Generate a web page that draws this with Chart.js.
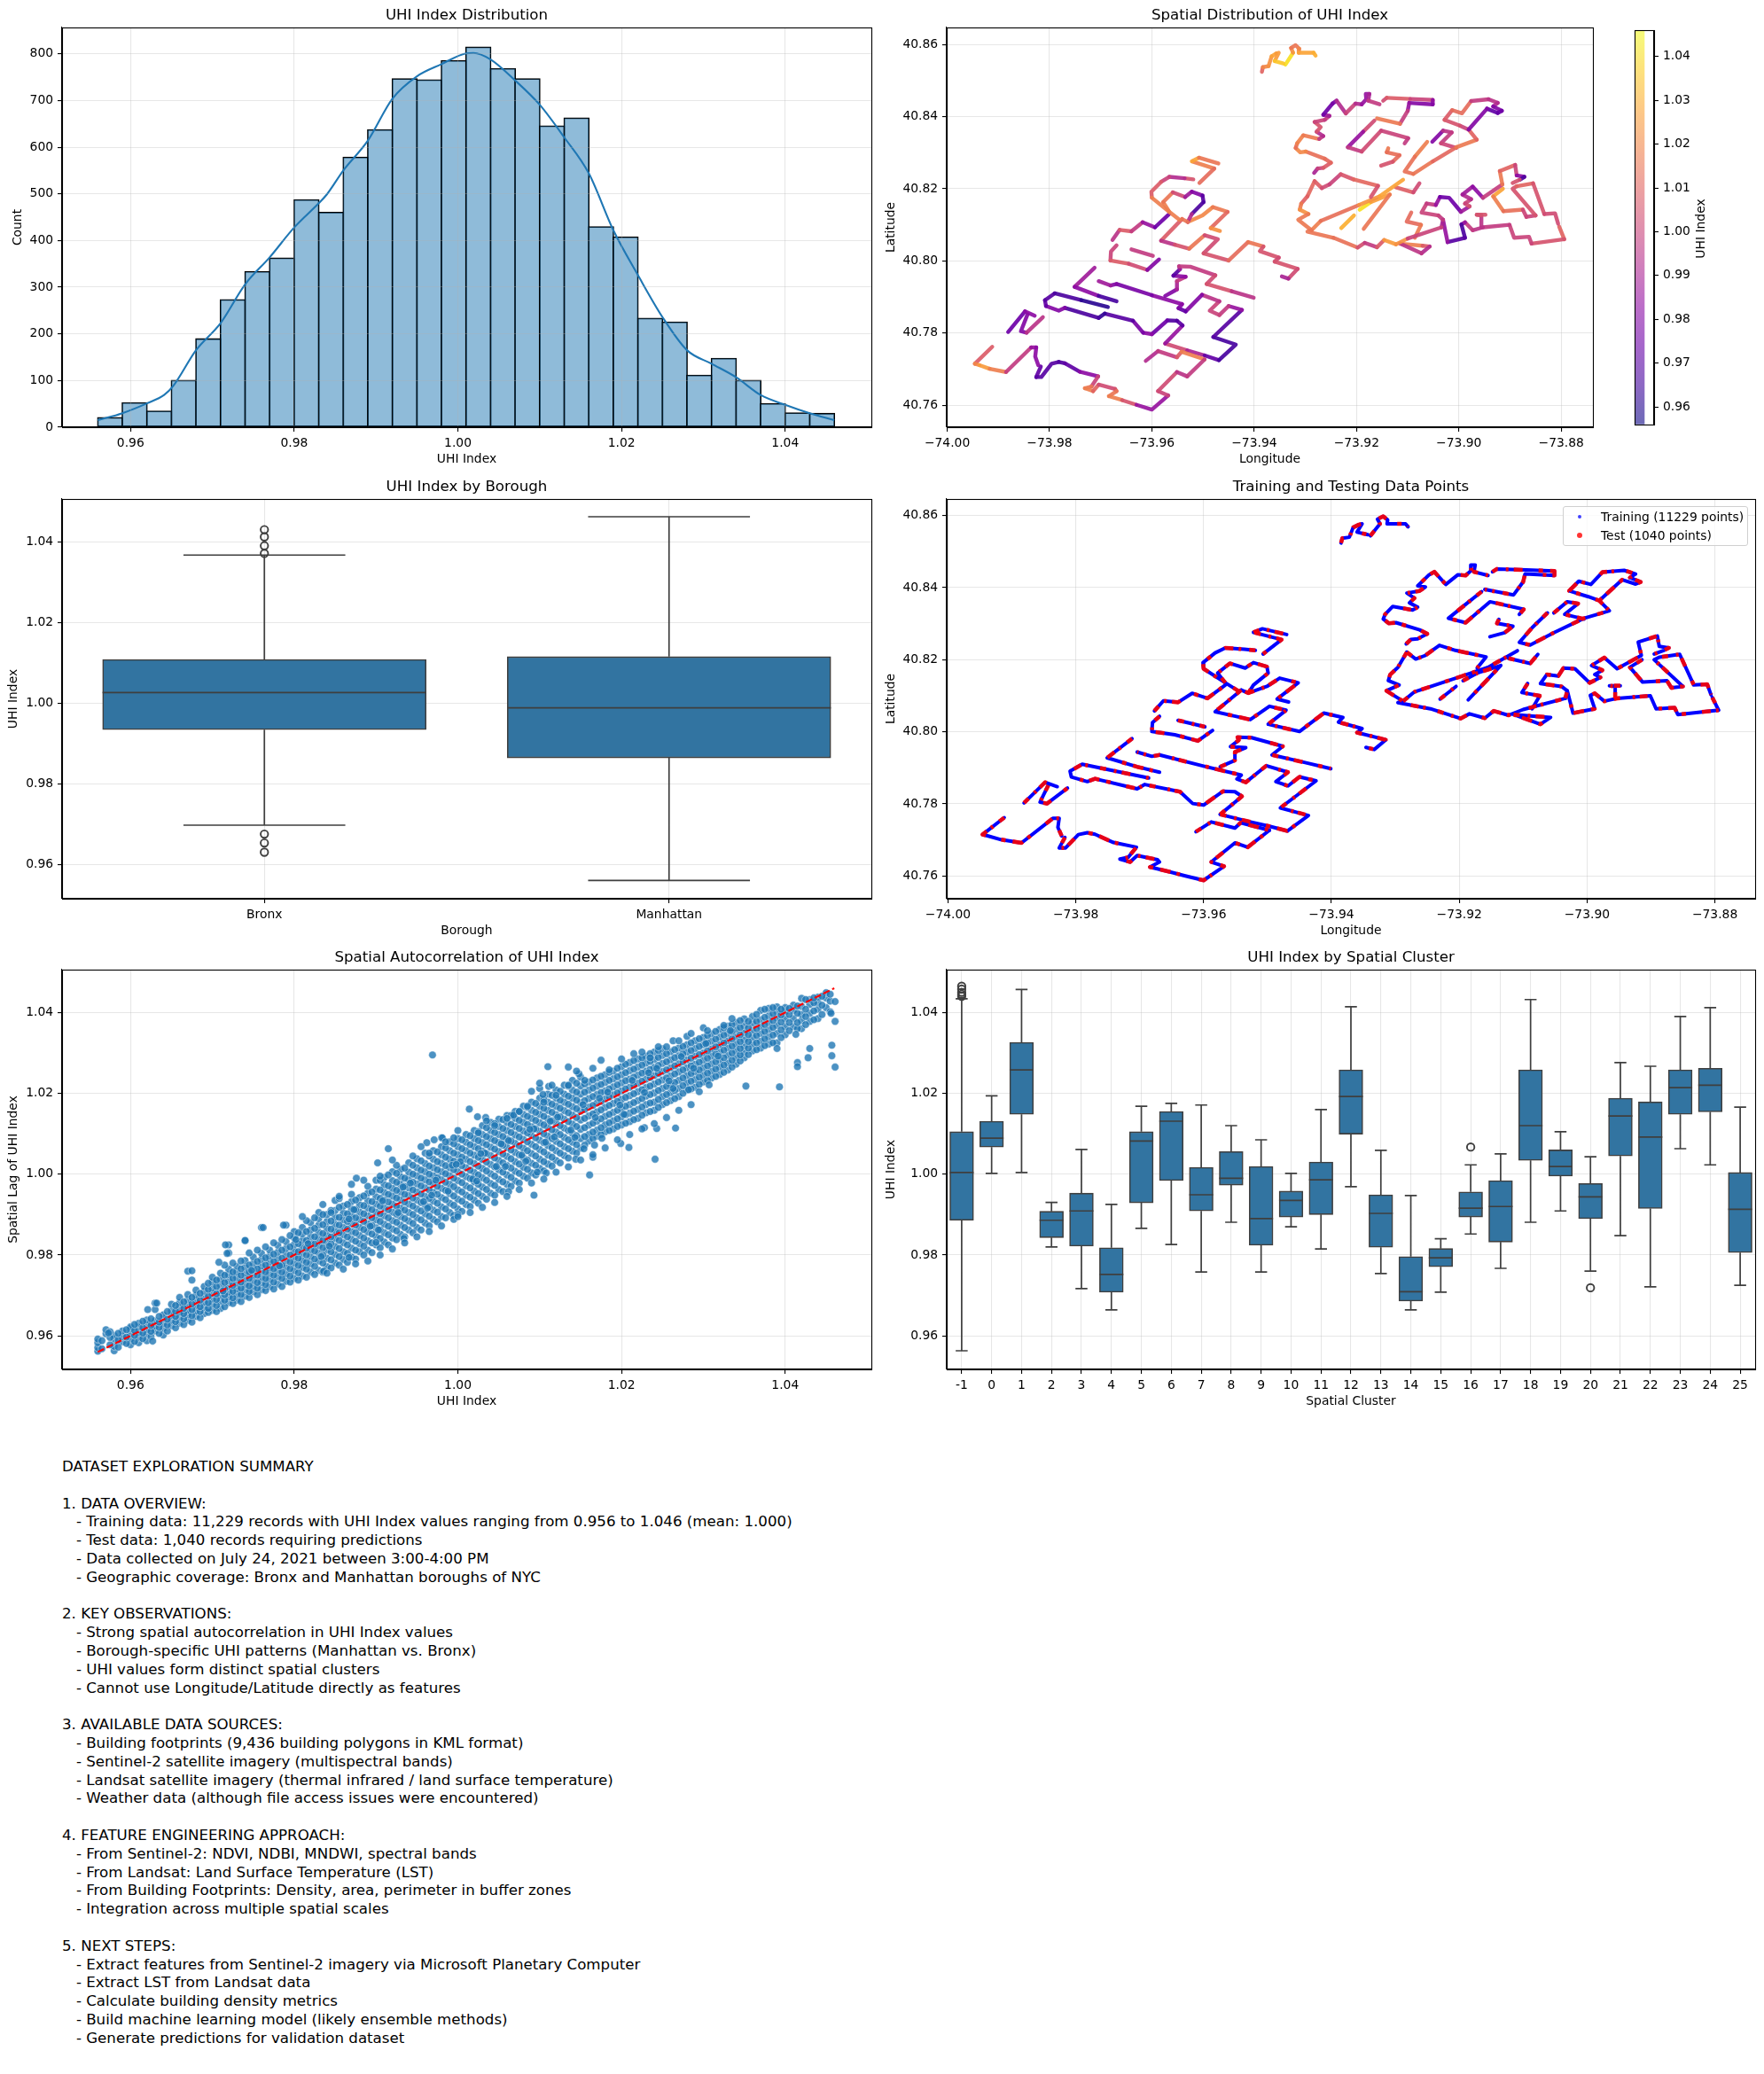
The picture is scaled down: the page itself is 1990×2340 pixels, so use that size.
<!DOCTYPE html>
<html>
<head>
<meta charset="utf-8">
<title>UHI dataset exploration</title>
<script src="https://cdn.jsdelivr.net/npm/chart.js@4/dist/chart.umd.min.js"></script>
<style>
  html, body { margin: 0; padding: 0; background: #fff; }
  body { position: relative; width: 1990px; height: 2340px; overflow: hidden; font-family: "DejaVu Sans", sans-serif; color: #000; }
  canvas { position: absolute; display: block; }
  #summary { position: absolute; left: 70px; top: 1645px; margin: 0; font: 16.67px/20.8px "DejaVu Sans", sans-serif; white-space: pre; }
  #cbarLabel { position: absolute; left: 1868px; top: 248px; width: 100px; height: 20px; line-height: 20px; text-align: center; font-size: 13.89px; transform: rotate(-90deg); }
  #legend { position: absolute; left: 1763px; top: 571px; width: 209px; height: 45px; box-sizing: border-box; border: 1px solid #d0d0d0; border-radius: 3px; background: rgba(255,255,255,.8); font-size: 13.89px; }
  #legend div { position: absolute; left: 42px; white-space: nowrap; line-height: 16px; }
  #legend i { position: absolute; border-radius: 50%; }
</style>
</head>
<body>
<canvas id="histChart" width="990" height="530" style="left:0;top:0"></canvas>
<canvas id="spatialChart" width="845" height="530" style="left:990px;top:0"></canvas>
<canvas id="colorbarChart" width="120" height="471" style="left:1840px;top:21px"></canvas>
<div id="cbarLabel">UHI Index</div>
<canvas id="boroughChart" width="990" height="530" style="left:0;top:532px"></canvas>
<canvas id="splitChart" width="1000" height="530" style="left:990px;top:532px"></canvas>
<div id="legend">
  <i style="left:16px;top:9px;width:4px;height:4px;background:rgba(0,0,255,.75)"></i><div style="top:3px">Training (11229 points)</div>
  <i style="left:15px;top:29px;width:6px;height:6px;background:rgba(255,0,0,.8)"></i><div style="top:24px">Test (1040 points)</div>
</div>
<canvas id="lagChart" width="990" height="530" style="left:0;top:1063px"></canvas>
<canvas id="clusterChart" width="1000" height="530" style="left:990px;top:1063px"></canvas>
<pre id="summary">DATASET EXPLORATION SUMMARY

1. DATA OVERVIEW:
   - Training data: 11,229 records with UHI Index values ranging from 0.956 to 1.046 (mean: 1.000)
   - Test data: 1,040 records requiring predictions
   - Data collected on July 24, 2021 between 3:00-4:00 PM
   - Geographic coverage: Bronx and Manhattan boroughs of NYC

2. KEY OBSERVATIONS:
   - Strong spatial autocorrelation in UHI Index values
   - Borough-specific UHI patterns (Manhattan vs. Bronx)
   - UHI values form distinct spatial clusters
   - Cannot use Longitude/Latitude directly as features

3. AVAILABLE DATA SOURCES:
   - Building footprints (9,436 building polygons in KML format)
   - Sentinel-2 satellite imagery (multispectral bands)
   - Landsat satellite imagery (thermal infrared / land surface temperature)
   - Weather data (although file access issues were encountered)

4. FEATURE ENGINEERING APPROACH:
   - From Sentinel-2: NDVI, NDBI, MNDWI, spectral bands
   - From Landsat: Land Surface Temperature (LST)
   - From Building Footprints: Density, area, perimeter in buffer zones
   - Integration across multiple spatial scales

5. NEXT STEPS:
   - Extract features from Sentinel-2 imagery via Microsoft Planetary Computer
   - Extract LST from Landsat data
   - Calculate building density metrics
   - Build machine learning model (likely ensemble methods)
   - Generate predictions for validation dataset</pre>
<script>
// histogram: bin centres, counts, and the kde curve read at the bin edges
const histBins = [0.9575,0.9605,0.9635,0.9665,0.9695,0.9725,0.9755,0.9785,0.9815,0.9845,0.9875,0.9905,0.9935,0.9965,0.9995,1.0025,1.0055,1.0085,1.0115,1.0145,1.0175,1.0205,1.0235,1.0265,1.0295,1.0325,1.0355,1.0385,1.0415,1.0445];
const histCounts = [21,53,35,101,190,274,334,363,488,461,579,638,747,745,786,815,769,747,646,663,430,408,234,226,112,148,101,51,31,30];
const kdeX = [0.956,0.959,0.962,0.9641,0.9652,0.968,0.971,0.974,0.977,0.98,0.983,0.984,0.986,0.989,0.992,0.995,0.998,1.001,1.0019,1.004,1.007,1.01,1.013,1.016,1.019,1.022,1.025,1.028,1.031,1.034,1.037,1.04,1.043,1.046];
const kdeY = [15,30,51,69,88,165,223,306,364,428,480,499,550,614,704,752,778,801,802,788,743,691,621,544,422,326,236,165,136,107,69,48,30,15];

// borough boxes
const boroughLabels = ['Bronx','Manhattan'];
const boroughQ1 = [0.9934,0.9864];
const boroughMedian = [1.0026,0.9988];
const boroughQ3 = [1.0108,1.0115];
const boroughLow = [0.9697,0.956];
const boroughHigh = [1.0367,1.0462];
const boroughFliers = [[1.043,1.0412,1.039,1.0371,0.9675,0.9653,0.963],[]];

// spatial cluster boxes
const clusterLabels = ['-1','0','1','2','3','4','5','6','7','8','9','10','11','12','13','14','15','16','17','18','19','20','21','22','23','24','25'];
const clusterQ1 = [0.9886,1.0067,1.0148,0.9843,0.9822,0.9708,0.9929,0.9984,0.9909,0.9973,0.9824,0.9894,0.99,1.0099,0.9819,0.9686,0.9771,0.9894,0.9832,1.0034,0.9995,0.989,1.0045,0.9915,1.0148,1.0154,0.9806];
const clusterMedian = [1.0004,1.0089,1.0258,0.9886,0.9909,0.9752,1.0082,1.0131,0.9949,0.999,0.989,0.9935,0.9986,1.0192,0.9903,0.9709,0.9793,0.9916,0.992,1.012,1.0019,0.9944,1.0144,1.0092,1.0214,1.022,0.9913];
const clusterQ3 = [1.0105,1.0131,1.0326,0.9908,0.9953,0.9818,1.0105,1.0155,1.0017,1.0056,1.0019,0.9958,1.003,1.0258,0.9949,0.9796,0.9816,0.9956,0.9984,1.0258,1.006,0.9977,1.0188,1.0179,1.0258,1.0262,1.0004];
const clusterLow = [0.9563,1.0002,1.0004,0.982,0.9717,0.9664,0.9866,0.9826,0.9758,0.9881,0.9758,0.987,0.9815,0.9969,0.9754,0.9664,0.9708,0.9852,0.9767,0.9881,0.9909,0.976,0.9848,0.9721,1.0063,1.0023,0.9725];
const clusterHigh = [1.0434,1.0194,1.0457,0.993,1.0061,0.9925,1.0168,1.0175,1.0171,1.012,1.0085,1.0002,1.016,1.0414,1.0059,0.9947,0.984,1.0023,1.005,1.0432,1.0105,1.0043,1.0276,1.0267,1.039,1.0412,1.0166];
const clusterFliers = {0:[1.0465,1.0458,1.045,1.0445,1.044],17:[1.0067],21:[0.9719]};

// measurement tracks: longitude, latitude, UHI index per vertex
const trackSouthA = [[-73.9912,40.7762,.995],[-73.9946,40.7715,1.02],[-73.9937,40.7711,1.02],[-73.9917,40.7701,1.03],[-73.9885,40.7692,1.005],[-73.9836,40.776,.99],[-73.9826,40.776,.98],[-73.9828,40.7735,.985],[-73.9822,40.7711,.98]];
const trackSouthB = [[-73.9817,40.7707,.975],[-73.9826,40.7678,.97],[-73.9816,40.7678,.97],[-73.9796,40.7715,.97],[-73.9782,40.772,.97],[-73.977,40.7716,.968],[-73.9741,40.7693,.975],[-73.9705,40.768,.99],[-73.9718,40.7652,1.01],[-73.9731,40.7647,1.02],[-73.9715,40.7639,1.015],[-73.9704,40.7657,1.005],[-73.9672,40.7645,1.0],[-73.9669,40.7639,1.01],[-73.9684,40.7625,1.02],[-73.9658,40.7614,1.015],[-73.963,40.7601,.995],[-73.96,40.7588,.975],[-73.9568,40.7627,.995],[-73.9588,40.7639,1.005],[-73.9551,40.7692,1.0],[-73.9531,40.768,.99],[-73.9497,40.7727,1.005]];
const trackCross = [[-73.9612,40.7723,.985],[-73.9588,40.775,1.0],[-73.9551,40.7733,.995],[-73.9542,40.7748,1.02],[-73.9497,40.7727,1.015]];
const trackSnake = [[-73.9574,40.7771,1.0],[-73.954,40.7821,.97],[-73.9551,40.7834,.972],[-73.957,40.7835,.965],[-73.96,40.7797,.985],[-73.9617,40.7801,.98],[-73.9637,40.7834,.975],[-73.9692,40.7854,.965],[-73.9704,40.7842,.96],[-73.977,40.787,.975],[-73.9782,40.7862,.985],[-73.9807,40.7875,.975],[-73.9809,40.7891,.97],[-73.979,40.791,.97],[-73.9738,40.7891,.965],[-73.9686,40.7872,.957]];
const trackRiver = [[-73.9712,40.7981,.985],[-73.9751,40.7928,.99],[-73.9704,40.7903,.975],[-73.9669,40.7888,.958]];
const trackMidtown = [[-73.9574,40.7771,1.005],[-73.9531,40.7752,1.0],[-73.9497,40.7738,.98],[-73.9469,40.7725,.965],[-73.9436,40.7768,.968],[-73.948,40.7789,.965],[-73.9424,40.7864,.975],[-73.945,40.7875,.995],[-73.9468,40.785,1.0],[-73.9487,40.7862,1.0],[-73.9468,40.7888,1.0],[-73.9502,40.7906,.99],[-73.9534,40.786,.97],[-73.9548,40.7869,.975],[-73.9541,40.788,.985],[-73.96,40.7905,.98],[-73.9669,40.7936,.975],[-73.9681,40.7932,.985],[-73.9704,40.7944,.99]];
const trackCentralA = [[-73.9574,40.7903,.975],[-73.9551,40.7921,.985],[-73.9551,40.7944,.995],[-73.9534,40.7956,1.0],[-73.9558,40.7959,.965],[-73.9545,40.7977,.975],[-73.9547,40.7985,1.0],[-73.9525,40.7984,.995],[-73.9476,40.796,1.0],[-73.9493,40.7936,1.005],[-73.9444,40.7916,1.005],[-73.9401,40.7898,.985]];
const trackSmallA = [[-73.9881,40.7803,.985],[-73.9848,40.786,.965],[-73.9829,40.7848,1.0]];
const trackSmallB = [[-73.9843,40.7852,.985],[-73.9856,40.7805,.975],[-73.9845,40.7801,.985],[-73.9813,40.7844,1.005]];
const trackHarlemA = [[-73.9669,40.8043,1.0],[-73.968,40.8026,1.0],[-73.9681,40.8001,1.0],[-73.9645,40.7992,1.015],[-73.9609,40.7975,.99],[-73.9586,40.8004,.97]];
const trackHarlemB = [[-73.964,40.8032,1.005],[-73.9598,40.8014,.99]];
const trackHarlemC = [[-73.9522,40.8276,1.04],[-73.9508,40.8286,1.015],[-73.947,40.827,1.015]];
const trackHarlemD = [[-73.952,40.8275,1.02],[-73.9478,40.8256,1.015],[-73.9507,40.8216,1.01]];
const trackHarlemE = [[-73.9519,40.8226,1.015],[-73.9536,40.8229,.995],[-73.9566,40.8233,.99],[-73.9582,40.8219,1.01],[-73.9601,40.8192,1.005],[-73.96,40.8175,1.01],[-73.9566,40.8136,1.025],[-73.9546,40.8114,1.01]];
const trackHeart = [[-73.9566,40.8136,1.02],[-73.9578,40.8163,1.015],[-73.9559,40.819,1.015],[-73.9535,40.8177,.99],[-73.9522,40.8192,.985],[-73.9501,40.8181,.975],[-73.9499,40.8163,.965],[-73.9522,40.813,.97],[-73.953,40.8108,1.015],[-73.9541,40.8116,1.015]];
const trackHarlemF = [[-73.953,40.8108,1.02],[-73.9501,40.8126,1.02],[-73.9481,40.8149,1.02],[-73.9452,40.8136,1.012],[-73.9485,40.8091,1.01],[-73.9467,40.8083,1.035]];
const trackHarlemG = [[-73.9677,40.8058,.975],[-73.9663,40.8086,1.015],[-73.964,40.8082,1.0],[-73.9618,40.8107,.995],[-73.9594,40.8093,.975],[-73.9566,40.813,.975]];
const trackHarlemH = [[-73.9541,40.8116,1.015],[-73.9582,40.8056,1.0],[-73.9555,40.8045,.99],[-73.9527,40.8034,1.02],[-73.9497,40.8071,1.01],[-73.9471,40.806,.995],[-73.9499,40.8021,1.01],[-73.945,40.8001,1.0],[-73.9412,40.8052,1.025],[-73.9382,40.804,1.005],[-73.9389,40.8027,1.005],[-73.9352,40.8009,1.005],[-73.936,40.7998,1.0],[-73.9315,40.7978,1.01],[-73.9333,40.7951,.995],[-73.9346,40.7957,.985]];
const trackNorthA = [[-73.9385,40.8524,1.0],[-73.9383,40.8537,1.02],[-73.9372,40.854,1.02],[-73.9366,40.8567,1.025],[-73.9357,40.8575,1.03],[-73.9352,40.8577,1.02],[-73.936,40.8554,1.03],[-73.9343,40.8547,1.04]];
const trackNorthB = [[-73.9339,40.8544,1.046],[-73.9324,40.8577,1.035],[-73.9328,40.859,1.01],[-73.9319,40.8598,1.02],[-73.9312,40.8588,1.01],[-73.9313,40.8577,1.03],[-73.9284,40.8577,1.025],[-73.928,40.8569,1.035]];
const trackBronxA = [[-73.9283,40.8244,.985],[-73.9276,40.8256,.995],[-73.9265,40.8258,1.005],[-73.925,40.8272,1.01],[-73.9262,40.8283,1.012],[-73.9299,40.8303,1.015],[-73.931,40.8301,1.025],[-73.9319,40.8313,1.015],[-73.9316,40.8326,1.012],[-73.9304,40.8348,1.025],[-73.9273,40.8338,1.008],[-73.9265,40.8346,.985],[-73.9278,40.8358,1.0],[-73.927,40.8371,1.01],[-73.9282,40.8385,1.0],[-73.9262,40.8391,1.0],[-73.9253,40.8402,.995],[-73.9265,40.8405,.98],[-73.9247,40.8436,.97],[-73.9239,40.8444,.985],[-73.9221,40.8409,1.0],[-73.9202,40.8436,1.0],[-73.919,40.8434,.985],[-73.9181,40.8448,.985],[-73.9182,40.8463,.985],[-73.9175,40.8463,.985],[-73.9177,40.8444,.995],[-73.9155,40.8434,1.0]];
const trackBronxB = [[-73.9148,40.8444,1.0],[-73.9141,40.8452,1.005],[-73.9095,40.8449,1.01],[-73.9051,40.8446,.99],[-73.9051,40.8434,.975],[-73.9097,40.8438,.985],[-73.91,40.8416,.985],[-73.9115,40.838,1.012],[-73.916,40.8395,1.02]];
const trackBronxC = [[-73.9165,40.8389,1.03],[-73.9187,40.8358,.975],[-73.9217,40.8315,.995],[-73.919,40.8303,1.0],[-73.9152,40.8361,1.005],[-73.9099,40.834,.995],[-73.9106,40.8326,1.0]];
const trackBronxD = [[-73.9138,40.8312,1.02],[-73.9141,40.8301,1.012],[-73.9116,40.8293,1.015],[-73.9129,40.8275,1.01],[-73.9152,40.8264,1.0]];
const trackBronxE = [[-73.9062,40.833,1.015],[-73.9086,40.8289,1.02],[-73.9106,40.8248,1.008],[-73.9089,40.8241,1.02],[-73.9051,40.8276,1.01],[-73.9005,40.8315,1.012],[-73.8965,40.8336,1.02],[-73.8981,40.8364,1.0],[-73.8998,40.8375,1.0],[-73.9028,40.8391,1.01],[-73.9013,40.8418,1.005],[-73.8994,40.8409,1.02],[-73.8976,40.8443,1.005],[-73.8942,40.8448,.99],[-73.8924,40.8438,1.0],[-73.8933,40.8428,.985],[-73.8916,40.8416,.975],[-73.8924,40.841,.975],[-73.8945,40.8422,.97],[-73.8981,40.8364,.99]];
const trackBronxF = [[-73.9052,40.833,.975],[-73.9031,40.8361,.985],[-73.9014,40.8356,1.005],[-73.9035,40.8326,.99],[-73.9005,40.8313,1.012]];
const trackBronxG = [[-73.9282,40.8221,1.012],[-73.9268,40.8202,1.005],[-73.9253,40.8212,1.0],[-73.9231,40.824,1.0],[-73.9206,40.8226,1.012],[-73.9158,40.8208,1.01],[-73.9172,40.8177,1.0]];
const trackBronxH = [[-73.9282,40.8221,1.012],[-73.9296,40.8179,1.01],[-73.9308,40.8159,1.008],[-73.9311,40.8142,1.025],[-73.9294,40.813,1.02],[-73.9314,40.8114,1.012],[-73.9288,40.8085,1.02],[-73.9296,40.8081,1.01],[-73.9245,40.8064,1.02],[-73.9198,40.8037,1.008],[-73.9184,40.805,1.0],[-73.916,40.8038,.995],[-73.9146,40.8058,1.02],[-73.9123,40.8046,1.03],[-73.91,40.8062,1.015],[-73.9034,40.8093,.985]];
const trackBronxI = [[-73.9288,40.8085,1.02],[-73.927,40.8111,1.015],[-73.9195,40.8155,1.012],[-73.9155,40.8179,1.035],[-73.9109,40.8225,1.02]];
const trackBronxJ = [[-73.9123,40.8204,1.012],[-73.9089,40.819,1.005],[-73.9077,40.8215,1.0]];
const trackBronxK = [[-73.9194,40.8142,1.04],[-73.9172,40.8163,1.042],[-73.9135,40.8184,1.01],[-73.9186,40.8089,1.02]];
const trackBronxL = [[-73.923,40.8091,1.02],[-73.9205,40.8126,1.04]];
const trackBronxM = [[-73.9115,40.8048,1.025],[-73.9071,40.8042,1.01],[-73.9057,40.804,1.005],[-73.9073,40.8021,.98],[-73.9115,40.8048,1.012]];
const trackBronxN = [[-73.9093,40.8134,1.012],[-73.9102,40.8109,1.012],[-73.9074,40.81,1.012],[-73.9086,40.8064,1.02]];
const trackBronxO = [[-73.9034,40.8093,.985],[-73.9031,40.8114,.995],[-73.904,40.8126,1.0],[-73.9073,40.8134,1.0],[-73.9063,40.8159,1.0],[-73.9045,40.8155,.995],[-73.9037,40.8177,.975],[-73.9019,40.8175,.975],[-73.8996,40.8136,.975],[-73.8979,40.8151,1.0],[-73.8988,40.8159,1.01],[-73.8976,40.8171,.99],[-73.8993,40.8184,.995],[-73.8973,40.8206,.98],[-73.8953,40.8175,.985],[-73.8915,40.8212,1.012],[-73.892,40.8249,1.02],[-73.889,40.8266,1.0],[-73.8887,40.8237,1.0],[-73.8872,40.8233,.965],[-73.8881,40.8225,.97],[-73.8895,40.8216,1.04]];
const trackBronxP = [[-73.8914,40.82,1.035],[-73.8933,40.8179,1.02],[-73.8913,40.8138,1.015],[-73.8875,40.8142,1.012],[-73.8868,40.8122,.99],[-73.885,40.8126,1.01],[-73.8895,40.82,1.0],[-73.8887,40.8207,1.01],[-73.8855,40.8215,1.01],[-73.8833,40.813,1.0],[-73.8812,40.8132,1.005],[-73.8806,40.8103,1.0]];
const trackBronxQ = [[-73.8804,40.8095,1.01],[-73.8794,40.806,1.01],[-73.8858,40.8048,1.0],[-73.8863,40.8067,1.0],[-73.8892,40.8064,1.0],[-73.8901,40.81,1.0],[-73.8953,40.8093,.995],[-73.8973,40.8085,.995],[-73.8988,40.8107,1.0],[-73.8995,40.8101,.97],[-73.8988,40.8064,.965],[-73.9022,40.8052,.975],[-73.9031,40.8114,.995]];
const trackBronxR = [[-73.8956,40.8093,.99],[-73.8956,40.8126,1.0],[-73.8965,40.8128,1.005],[-73.8948,40.8128,1.005]];

const allTracks = [trackSouthA,trackSouthB,trackCross,trackSnake,trackRiver,trackMidtown,trackCentralA,trackSmallA,trackSmallB,trackHarlemA,trackHarlemB,trackHarlemC,trackHarlemD,trackHarlemE,trackHeart,trackHarlemF,trackHarlemG,trackHarlemH,trackNorthA,trackNorthB,trackBronxA,trackBronxB,trackBronxC,trackBronxD,trackBronxE,trackBronxF,trackBronxG,trackBronxH,trackBronxI,trackBronxJ,trackBronxK,trackBronxL,trackBronxM,trackBronxN,trackBronxO,trackBronxP,trackBronxQ,trackBronxR];

// spatial lag scatter: first entry of a row is the UHI index, the rest are lag values at it
const lagRows = [
[.956,.9562,.9571,.9583,.9592],[.957,.9605,.9615],[.958,.9563,.9574,.9592,.9601],[.959,.9585,.9598,.9612],
[.96,.9578,.9592,.9605,.9618,.9622],[.961,.9583,.9596,.9608,.9621,.9631],[.962,.9588,.9604,.9615,.9628,.9639],[.963,.9612,.9624,.9637,.9665,.9681],
[.964,.9602,.9618,.963,.9643,.9652],[.965,.9625,.9638,.965,.9662,.9678],[.966,.9631,.9646,.9658,.967,.9682,.9695],[.967,.9638,.9652,.9663,.9676,.9689,.9702,.976],
[.968,.9648,.9661,.9675,.9688,.97,.9713],[.969,.9655,.967,.9683,.9696,.971,.9722],[.97,.9663,.9678,.9691,.9705,.9718,.9733,.9745],[.971,.9668,.9685,.9699,.9712,.9726,.974,.9755],
[.972,.9682,.9696,.9708,.9722,.9736,.9751,.9765,.9805,.9825],[.973,.9688,.9703,.9716,.973,.9744,.9758,.9772],[.974,.9698,.9714,.9727,.9741,.9755,.977,.9786,.9835],[.975,.9709,.9722,.9737,.975,.9764,.9779,.9795],
[.976,.9714,.9731,.9745,.976,.9773,.9789,.9804,.9868],[.977,.9722,.9739,.9754,.9768,.9783,.9797,.9812],[.978,.9728,.9746,.9762,.9778,.9792,.9807,.9824],[.979,.9735,.9753,.977,.9786,.9801,.9816,.9833,.9874],
[.98,.9742,.9761,.9779,.9795,.981,.9826,.9842,.9858],[.981,.9748,.9769,.9787,.9804,.982,.9836,.9852,.9868],[.982,.9758,.9778,.9796,.9813,.983,.9846,.9862,.988],[.983,.9762,.9785,.9805,.9823,.984,.9856,.9874,.989,.9905],
[.984,.9771,.9792,.9812,.9832,.9849,.9866,.9883,.99],[.985,.978,.9801,.9821,.9841,.9859,.9876,.9893,.991,.9935],[.986,.9789,.9808,.983,.985,.9868,.9887,.9904,.9921],[.987,.9795,.9817,.9839,.9858,.9878,.9896,.9914,.9932,.995],
[.988,.9808,.9828,.9848,.9868,.9888,.9906,.9924,.9942],[.989,.9812,.9835,.9857,.9877,.9897,.9916,.9934,.9953,.997],[.99,.9825,.9846,.9867,.9887,.9906,.9926,.9944,.9963,.9985],[.991,.9832,.9855,.9876,.9897,.9916,.9936,.9955,.9974,.9992],
[.992,.9842,.9864,.9885,.9906,.9926,.9946,.9965,.9984,1.0006],[.993,.9851,.9874,.9895,.9916,.9937,.9956,.9975,.9994,1.0012],[.994,.9862,.9884,.9905,.9926,.9947,.9966,.9986,1.0005,1.0028],[.995,.9868,.9892,.9914,.9936,.9956,.9976,.9996,1.0016,1.0038],
[.996,.9879,.9902,.9924,.9945,.9966,.9986,1.0006,1.0026,1.0052],[.997,.9888,.9911,.9933,.9955,.9976,.9996,1.0016,1.0037,1.0058],[.998,.9895,.9919,.9942,.9965,.9986,1.0006,1.0027,1.0048,1.0068,1.009],[.999,.9905,.9928,.9952,.9975,.9996,1.0016,1.0037,1.0058,1.008],
[1,.9914,.9938,.9961,.9984,1.0006,1.0027,1.0048,1.0068,1.0088],[1.001,.9925,.9948,.9971,.9994,1.0016,1.0037,1.0058,1.0079,1.0098],[1.002,.9936,.9958,.9981,1.0004,1.0026,1.0047,1.0068,1.0088,1.0108],[1.003,.9945,.9968,.9991,1.0014,1.0036,1.0057,1.0078,1.0098,1.012],
[1.004,.9953,.9977,1.0001,1.0024,1.0046,1.0067,1.0088,1.0108,1.0128],[1.005,.9962,.9987,1.0011,1.0034,1.0056,1.0078,1.0098,1.0118,1.0136],[1.006,.9975,.9998,1.0021,1.0044,1.0066,1.0087,1.0108,1.0128,1.0145],[1.007,.9983,1.0007,1.0031,1.0054,1.0076,1.0097,1.0118,1.0138,1.0155],
[1.008,.9995,1.0017,1.0041,1.0064,1.0086,1.0107,1.0128,1.0148,1.0168],[1.009,1.0003,1.0027,1.0051,1.0074,1.0096,1.0117,1.0138,1.0158,1.0178,1.0205],[1.01,1.0014,1.0037,1.0061,1.0084,1.0106,1.0127,1.0148,1.0168,1.0188,1.0212],[1.011,1.0025,1.0047,1.0071,1.0094,1.0116,1.0137,1.0158,1.0178,1.0198],
[1.012,1.0034,1.0058,1.0081,1.0104,1.0126,1.0147,1.0168,1.0188,1.0208],[1.013,1.0046,1.0068,1.0091,1.0114,1.0136,1.0157,1.0178,1.0198,1.022],[1.014,1.0057,1.0079,1.0101,1.0124,1.0146,1.0167,1.0188,1.0208,1.0232],[1.015,1.0064,1.0088,1.0111,1.0134,1.0156,1.0177,1.0198,1.0218,1.024],
[1.016,1.0082,1.0098,1.0121,1.0144,1.0166,1.0187,1.0208,1.0228],[1.017,1.0094,1.0109,1.0131,1.0154,1.0176,1.0197,1.0218,1.0238],[1.018,1.0105,1.0122,1.0143,1.0165,1.0186,1.0206,1.0227,1.0246],[1.019,1.0112,1.0132,1.0153,1.0175,1.0196,1.0216,1.0236,1.0255],
[1.02,1.0122,1.0142,1.0163,1.0185,1.0206,1.0226,1.0246,1.0266],[1.021,1.013,1.0151,1.0172,1.0194,1.0215,1.0235,1.0256,1.0276],[1.022,1.0138,1.016,1.0182,1.0204,1.0225,1.0245,1.0265,1.0285],[1.023,1.0152,1.0172,1.0193,1.0214,1.0235,1.0255,1.0275,1.0292],
[1.024,1.0158,1.0178,1.0201,1.0223,1.0244,1.0264,1.0284,1.0302],[1.025,1.0172,1.0192,1.0212,1.0233,1.0254,1.0274,1.0294,1.031],[1.026,1.0182,1.0202,1.0222,1.0243,1.0263,1.0283,1.0303],[1.027,1.0192,1.0212,1.0232,1.0253,1.0273,1.0293,1.0312],
[1.028,1.0208,1.0226,1.0244,1.0263,1.0283,1.0302,1.032],[1.029,1.0215,1.0234,1.0253,1.0272,1.0292,1.0311,1.033],[1.03,1.0228,1.0245,1.0263,1.0282,1.03,1.032,1.0338,1.0362],[1.031,1.0238,1.0255,1.0273,1.0292,1.031,1.0329,1.0347],
[1.032,1.0247,1.0265,1.0283,1.0302,1.032,1.0339,1.0358],[1.033,1.0258,1.0275,1.0294,1.0312,1.033,1.0348,1.0366],[1.034,1.0272,1.0288,1.0305,1.0322,1.034,1.0358,1.0375],[1.035,1.0288,1.0302,1.0317,1.0333,1.035,1.0367,1.0384],
[1.036,1.0305,1.0322,1.0339,1.0356,1.0374,1.039],[1.037,1.0312,1.0329,1.0348,1.0365,1.0382,1.0405],[1.038,1.0322,1.034,1.0358,1.0375,1.0392,1.041],[1.039,1.0325,1.0348,1.0368,1.0386,1.0402,1.0414],
[1.04,1.0345,1.0365,1.0385,1.0402,1.0412],[1.041,1.0365,1.0385,1.0405,1.0418],[1.042,1.036,1.038,1.0395,1.0415,1.0435],[1.043,1.0378,1.0398,1.042,1.0432],[1.044,1.0385,1.0408,1.0425,1.0438],[1.045,1.0412,1.0436,1.0449]
];
// second reading of the same cloud, between the rows above
const lagRowsInner = [
[.9565,.9568,.9588],[.9575,.9578,.9596,.961],[.9585,.9572,.959,.9606],[.9595,.9581,.9597,.9615],[.9605,.9586,.9601,.9613,.9628],[.9615,.9593,.9607,.962,.9636],[.9625,.9598,.9611,.9626,.9642],[.9635,.9606,.9621,.9634,.9648],
[.9645,.9612,.9627,.9641,.966],[.9655,.962,.9635,.9648,.9661,.9675],[.9665,.9628,.9642,.9655,.9668,.9684],[.9675,.9634,.965,.9665,.9679,.9695,.9738],[.9685,.9645,.966,.9672,.9688,.9705],[.9695,.9658,.9668,.9682,.9698,.9715,.973],[.9705,.966,.9675,.969,.9704,.9722,.9738],[.9715,.9672,.9688,.9702,.9716,.9732,.975,.9775],
[.9725,.968,.9694,.971,.9725,.9742,.9758,.978],[.9735,.9685,.9702,.9718,.9733,.975,.9766,.9785],[.9745,.9695,.971,.9724,.9742,.9758,.9775,.9805],[.9755,.9702,.9718,.9732,.975,.9766,.9784,.9812],[.9765,.9712,.9727,.9742,.9758,.9775,.9793,.982],[.9775,.9716,.9733,.975,.9766,.9784,.9802,.983],[.9785,.9722,.9742,.9758,.9775,.9792,.9812,.9838],[.9795,.9733,.9748,.9766,.9783,.98,.982,.9848],
[.9805,.9738,.9756,.9774,.9792,.9808,.9828,.9855],[.9815,.9745,.9765,.9782,.98,.9817,.9836,.9858,.9885],[.9825,.9752,.9772,.979,.981,.9827,.9845,.9866,.9892],[.9835,.9758,.978,.98,.9818,.9836,.9853,.9875,.99],[.9845,.9768,.9788,.9808,.9828,.9845,.9864,.9884,.991],[.9855,.9775,.9796,.9816,.9836,.9855,.9874,.9893,.9918,.994],[.9865,.9782,.9804,.9825,.9845,.9864,.9883,.9902,.9925],[.9875,.979,.9812,.9834,.9855,.9874,.9892,.9912,.9936],
[.9885,.98,.9822,.9842,.9863,.9883,.9902,.9922,.9946],[.9895,.9806,.983,.9852,.9873,.9892,.9912,.9932,.9956],[.9905,.9818,.9841,.9862,.9883,.9902,.9921,.994,.9961,.9985],[.9915,.9825,.985,.9871,.9892,.9912,.9931,.995,.9971,.9998],[.9925,.9838,.986,.9881,.9901,.9921,.9941,.996,.998,1.0002],[.9935,.9845,.9868,.989,.9911,.9931,.995,.997,.999,1.0015],[.9945,.9855,.9878,.99,.9921,.9941,.9961,.998,1.0,1.0022],[.9955,.9862,.9887,.9909,.993,.9951,.9971,.999,1.001,1.0033],
[.9965,.9872,.9896,.9919,.994,.9961,.9981,1.0,1.002,1.0045],[.9975,.9882,.9906,.9928,.995,.997,.9991,1.0011,1.0031,1.0055],[.9985,.9892,.9914,.9937,.996,.998,1.0001,1.0021,1.0042,1.0065],[.9995,.9898,.9923,.9946,.9969,.999,1.0011,1.0032,1.0052,1.0075],[1.0005,.9908,.9933,.9956,.9979,1.0,1.0021,1.0042,1.0063,1.0085],[1.0015,.992,.9943,.9966,.9989,1.001,1.0031,1.0052,1.0073,1.0095],[1.0025,.9928,.9952,.9975,.9998,1.002,1.0042,1.0063,1.0083,1.0105],[1.0035,.9938,.9962,.9985,1.0008,1.003,1.0051,1.0073,1.0093,1.0115],
[1.0045,.9948,.9972,.9995,1.0018,1.004,1.0062,1.0083,1.0103,1.0125],[1.0055,.9957,.9981,1.0005,1.0028,1.005,1.0072,1.0093,1.0113,1.0135],[1.0065,.997,.9992,1.0015,1.0038,1.006,1.0082,1.0103,1.0123,1.0145],[1.0075,.9978,1.0002,1.0025,1.0048,1.007,1.0092,1.0113,1.0133,1.0155],[1.0085,.999,1.0012,1.0035,1.0058,1.008,1.0102,1.0123,1.0143,1.0165],[1.0095,.9998,1.0022,1.0045,1.0068,1.009,1.0112,1.0133,1.0153,1.0175],[1.0105,1.0008,1.0031,1.0055,1.0078,1.01,1.0122,1.0143,1.0163,1.0185],[1.0115,1.002,1.0042,1.0065,1.0088,1.011,1.0132,1.0153,1.0173,1.0195],
[1.0125,1.0028,1.0052,1.0075,1.0098,1.012,1.0142,1.0163,1.0183,1.0205],[1.0135,1.004,1.0063,1.0085,1.0108,1.013,1.0152,1.0173,1.0193,1.0218],[1.0145,1.0052,1.0073,1.0095,1.0118,1.014,1.0162,1.0183,1.0203,1.0225],[1.0155,1.0072,1.0093,1.0115,1.0138,1.016,1.0182,1.0203,1.0223],[1.0165,1.0088,1.0104,1.0126,1.0149,1.017,1.0192,1.0213,1.0233],[1.0175,1.0098,1.0115,1.0137,1.0159,1.018,1.0202,1.0222,1.0242],[1.0185,1.0108,1.0127,1.0148,1.017,1.0191,1.0211,1.0232,1.0252],[1.0195,1.0118,1.0137,1.0158,1.018,1.0201,1.0221,1.0241,1.0262],
[1.0205,1.0126,1.0147,1.0168,1.019,1.0211,1.0231,1.0251,1.0272],[1.0215,1.0135,1.0156,1.0177,1.0199,1.022,1.024,1.026,1.0281],[1.0225,1.0146,1.0166,1.0187,1.0209,1.023,1.025,1.027,1.0288],[1.0235,1.0155,1.0176,1.0197,1.0218,1.0239,1.0259,1.0279,1.0298],[1.0245,1.0165,1.0185,1.0207,1.0228,1.0249,1.0269,1.0289,1.0306],[1.0255,1.0177,1.0197,1.0217,1.0238,1.0258,1.0278,1.0298,1.0315],[1.0265,1.0187,1.0207,1.0227,1.0248,1.0268,1.0288,1.0308],[1.0275,1.02,1.0219,1.0238,1.0258,1.0278,1.0298,1.0316],
[1.0285,1.0211,1.023,1.0249,1.0268,1.0287,1.0306,1.0325],[1.0295,1.0222,1.024,1.0258,1.0277,1.0296,1.0316,1.0335],[1.0305,1.0232,1.025,1.0268,1.0287,1.0305,1.0325,1.0343],[1.0315,1.0242,1.026,1.0278,1.0297,1.0315,1.0334,1.0353],[1.0325,1.0252,1.027,1.0288,1.0307,1.0325,1.0344,1.0362],[1.0335,1.0265,1.0282,1.03,1.0317,1.0335,1.0353,1.037],[1.0345,1.028,1.0295,1.0311,1.0328,1.0345,1.0363,1.038],[1.0355,1.0296,1.0312,1.0328,1.0345,1.0362,1.0378],
[1.0365,1.0308,1.0325,1.0343,1.036,1.0378,1.0395],[1.0375,1.0318,1.0335,1.0353,1.037,1.0388,1.0408],[1.0385,1.0325,1.0344,1.0363,1.038,1.0397,1.0412],[1.0395,1.0338,1.0357,1.0376,1.0394,1.0408],[1.0405,1.0355,1.0375,1.0395,1.041],[1.0415,1.036,1.0375,1.0398,1.0416],[1.0425,1.037,1.039,1.0408,1.0432],[1.0435,1.0382,1.0404,1.0424,1.0436],[1.0445,1.0395,1.0418,1.044],[1.0455,1.0402,1.0428,1.0445]
];
const lagStrayX = [.9969,1.011,1.0135,1.0175,1.0215,1.0263,1.028,1.0014,.9915,.9902,1.0241,1.0161,1.0093,1.0209,1.0199,1.0266,1.0243,1.0228,1.0352,1.0393,1.0415,1.0415,1.0428,1.043,1.0457,1.0457,1.0461,1.0461,1.0461,1.0456,1.0413,1.039,1.0307,1.0295,1.0282,.9762,.9787,.974,.9716,.9718,.9708,.9675,.9632,.9621,.9573,.9627,.9876,.9981,.9962,.9971,1.0034,1.0024,1.0068,1.01,1.0111,1.0104,1.0148,1.0176,1.0167,1.0154,1.0165,1.0144,1.0108,1.0097,1.0062,1,.9934,.99,.9867,.9836];
const lagStrayY = [1.0295,1.0266,1.0265,1.0282,1.0298,1.033,1.0341,1.0161,1.0063,1.0028,1.0037,.9998,.9948,1.0066,1.0076,1.0114,1.0113,1.0115,1.0218,1.0216,1.0276,1.0266,1.0288,1.0311,1.0319,1.0293,1.0265,1.0378,1.0427,1.0398,1.0346,1.0311,1.0221,1.0204,1.0209,.9868,.9874,.9836,.9825,.9804,.9782,.9761,.9681,.9665,.9607,.9587,.999,1.009,1.0078,1.0085,1.014,1.0142,1.0146,1.0225,1.0217,1.0197,1.0248,1.0089,1.0072,1.0063,1.0042,1.0037,1.0003,1.0005,.9957,.99,.9841,.9831,.9794,.976];
// points along the upper and lower rim of the cloud
const lagUpperX = [.981,.9835,.9855,.9845,.987,.9885,.9905,.9925,.992,.9945,.9965,.9955,.9985,.9995,1,1.0025,1.0045,1.0035,1.006,1.0075,1.0085,1.0105,1.012,1.0115,1.0135,1.0155,1.0145,1.0165,1.0185,1.02,1.0225,1.0235,1.0245,1.027,1.0285,1.0305,1.0325,1.0335];
const lagUpperY = [.9895,.9925,.9945,.9905,.9975,.9985,.9995,1.0022,1.0035,1.0045,1.0052,1.0068,1.008,1.009,1.0108,1.0102,1.012,1.0132,1.0138,1.0155,1.0168,1.0178,1.0195,1.022,1.022,1.0232,1.0255,1.0262,1.0258,1.0285,1.0302,1.0288,1.0315,1.033,1.0348,1.0355,1.0368,1.0385];
const lagLowerX = [.984,.986,.9875,.989,.9905,.992,.9935,.995,.9965,.998,.9995,1,1.0015,1.003,1.0045,1.006,1.0075,1.009,1.0105,1.012,1.0135,1.015,1.0165,1.018,1.0195,1.021,1.0225,1.024,1.0255,1.027,1.0285];
const lagLowerY = [.9755,.9765,.9778,.9785,.98,.9815,.983,.9845,.9858,.9872,.9888,.9895,.9905,.9918,.993,.9945,.9962,.9978,.9988,1.0005,1.0018,1.0035,1.0048,1.0065,1.0085,1.0098,1.0112,1.0125,1.014,1.0158,1.0172];
// darker spots inside the cloud
const lagCoreX = [.9713,.9748,.9782,.9817,.9843,.9867,.9893,.9908,.9927,.9942,.9958,.9973,.9988,1.0003,1.0018,1.0033,1.0047,1.0062,1.0078,1.0093,1.0107,1.0122,1.0138,1.0153,1.0168,1.0183,1.0198,1.0213,1.0228,1.0243,1.0258,1.0273,1.0288,1.0303,1.0318,1.0333,.9873,.9903,.9933,.9963,.9993,1.0023,1.0053,1.0083,1.0113,1.0143,1.0173,1.0203,1.0233,1.0263,.9802,.9833,.9968,.9998,1.0028,1.0058,1.0088,1.0118];
const lagCoreY = [.9711,.9762,.9773,.9828,.9822,.9889,.9871,.9934,.9905,.9978,.9932,.9985,.9958,1.0031,.9988,1.0052,1.0019,1.0083,1.0047,1.0112,1.0079,1.0141,1.0109,1.0172,1.014,1.0203,1.0171,1.0232,1.0202,1.0262,1.0231,1.0291,1.0262,1.0323,1.0292,1.0355,.9912,.9862,.9968,.9916,1.0022,.9983,1.0075,1.0032,1.0131,1.0091,1.0188,1.0148,1.0251,1.0212,.9838,.9796,.9948,1.0024,1.0051,1.0019,1.0111,1.0092];

// colour scale of the spatial panel
const uhiMin = 0.956, uhiMax = 1.046;
const plasmaStops = [[13,8,135],[65,4,157],[106,0,168],[143,13,164],[177,42,144],[204,71,120],[225,100,98],[241,132,75],[252,166,54],[252,206,37],[240,249,33]];
const colorbarTicks = [0.96,0.97,0.98,0.99,1.00,1.01,1.02,1.03,1.04];

function plasmaAt(t, alpha) {
  const pos = Math.min(Math.max(t, 0), 1) * (plasmaStops.length - 1);
  const lo = Math.floor(pos), hi = Math.min(lo + 1, plasmaStops.length - 1), f = pos - lo;
  const c = [0,1,2].map(k => Math.round(plasmaStops[lo][k] + (plasmaStops[hi][k] - plasmaStops[lo][k]) * f));
  return 'rgba(' + c.join(',') + ',' + alpha + ')';
}

const FONT = '"DejaVu Sans", sans-serif';
const GRID = 'rgba(176,176,176,0.3)';
Chart.defaults.font.family = FONT;
Chart.defaults.font.size = 13.89;
Chart.defaults.color = '#000';

// the top and right spines, chart.js only draws the scale borders
const framePlugin = {
  id: 'frame',
  afterDraw(chart) {
    const a = chart.chartArea, c = chart.ctx;
    c.save();
    c.strokeStyle = '#000';
    c.lineWidth = 1.1;
    c.strokeRect(Math.round(a.left) + 0.5, Math.round(a.top) + 0.5, Math.round(a.right - a.left), Math.round(a.bottom - a.top));
    c.restore();
  }
};
Chart.register(framePlugin);

function minus(text) { return String(text).replace('-', '\u2212'); }

function axis(opts) {
  const horizontal = opts.pos === 'bottom';
  const gridZ = opts.gridZ === undefined ? -1 : opts.gridZ;
  const scale = {
    type: 'linear',
    position: opts.pos,
    min: opts.min,
    max: opts.max,
    offset: false,
    title: {
      display: true,
      text: opts.title,
      font: { size: 13.89 },
      padding: horizontal ? { top: 0, bottom: 3.7 } : { top: opts.titleGap, bottom: 0 }
    },
    grid: { offset: false, color: GRID, lineWidth: 1.1, tickColor: '#000', tickWidth: 1.1, tickLength: 5, z: gridZ },
    border: { color: '#000', width: 1.1, z: gridZ + 1 },
    ticks: {
      stepSize: opts.step,
      includeBounds: false,
      autoSkip: false,
      maxRotation: 0,
      padding: 4.9,
      callback: opts.label || (v => minus(v.toFixed(2)))
    },
    afterFit(s) {
      if (horizontal) s.height = 48; else s.width = opts.size;
    }
  };
  if (opts.tickAt) scale.afterBuildTicks = s => { s.ticks = opts.tickAt.map((_, i) => ({ value: i })); };
  return scale;
}

function baseOptions(title, right, xAxis, yAxis) {
  return {
    responsive: false,
    animation: false,
    devicePixelRatio: 1,
    layout: { padding: { left: 0, right: right, top: 0, bottom: 0 } },
    plugins: {
      legend: { display: false },
      tooltip: { enabled: false },
      title: { display: true, text: title, fullSize: false, font: { size: 16.67, weight: 'normal' }, color: '#000', padding: { top: 7.6, bottom: 3.4 } }
    },
    scales: { x: xAxis, y: yAxis }
  };
}

// --- histogram with kde
new Chart(document.getElementById('histChart'), {
  type: 'bar',
  data: { datasets: [
    { type: 'line', order: 0, data: kdeX.map((x, i) => ({ x: x, y: kdeY[i] })), borderColor: '#1f77b4', borderWidth: 2.1, pointRadius: 0, cubicInterpolationMode: 'monotone' },
    { order: 1, data: histBins.map((x, i) => ({ x: x, y: histCounts[i] })), backgroundColor: 'rgba(31,119,180,0.5)', borderColor: '#000', borderWidth: 1.1, borderSkipped: false, barThickness: 28.8 }
  ] },
  options: baseOptions('UHI Index Distribution', 7,
    axis({ pos: 'bottom', min: 0.95163, max: 1.05053, step: 0.02, title: 'UHI Index', gridZ: 1 }),
    axis({ pos: 'left', min: 0, max: 856.5, step: 100, title: 'Count', titleGap: 12, size: 70, gridZ: 1, label: v => String(v) }))
});

// --- spatial panel coloured by index
new Chart(document.getElementById('spatialChart'), {
  type: 'scatter',
  data: { datasets: allTracks.map(track => ({
    data: track.map(p => ({ x: p[0], y: p[1] })),
    showLine: true,
    pointRadius: 0,
    borderWidth: 4.4,
    borderCapStyle: 'round',
    borderJoinStyle: 'round',
    segment: { borderColor: s => plasmaAt(((track[s.p0DataIndex][2] + track[s.p1DataIndex][2]) / 2 - uhiMin) / (uhiMax - uhiMin), 0.92) }
  })) },
  options: baseOptions('Spatial Distribution of UHI Index', 38,
    axis({ pos: 'bottom', min: -74.0001, max: -73.8738, step: 0.02, title: 'Longitude' }),
    axis({ pos: 'left', min: 40.7539, max: 40.8647, step: 0.02, title: 'Latitude', titleGap: 7, size: 78 }))
});

// --- colorbar
new Chart(document.getElementById('colorbarChart'), {
  type: 'bar',
  data: { labels: ['UHI Index'], datasets: [{
    data: [[uhiMin, uhiMax]],
    barPercentage: 1,
    categoryPercentage: 1,
    backgroundColor(ctx) {
      const a = ctx.chart.chartArea;
      if (!a) return 'transparent';
      const g = ctx.chart.ctx.createLinearGradient(0, a.bottom, 0, a.top);
      plasmaStops.forEach((s, i) => g.addColorStop(i / (plasmaStops.length - 1), plasmaAt(i / (plasmaStops.length - 1), 0.6)));
      return g;
    }
  }] },
  options: {
    responsive: false,
    animation: false,
    devicePixelRatio: 1,
    layout: { padding: { left: 4, right: 0, top: 10, bottom: 10 } },
    plugins: { legend: { display: false }, tooltip: { enabled: false } },
    scales: {
      x: { display: false, offset: false },
      y: {
        position: 'right',
        min: uhiMin,
        max: uhiMax,
        afterBuildTicks(scale) { scale.ticks = colorbarTicks.map(v => ({ value: v })); },
        grid: { drawOnChartArea: false, tickColor: '#000', tickWidth: 1.1, tickLength: 5 },
        border: { color: '#000', width: 1.1 },
        ticks: { padding: 4.9, callback: v => v.toFixed(2) },
        afterFit(scale) { scale.width = 94; }
      }
    }
  }
});

// box plot drawn from floating bars and line datasets with gaps
function boxDatasets(q1, median, q3, low, high, fliers, thickness) {
  const whiskers = [], medians = [], outliers = [];
  q1.forEach((_, i) => {
    whiskers.push({ x: i, y: q3[i] }, { x: i, y: high[i] }, { x: i, y: null });
    whiskers.push({ x: i - 0.2, y: high[i] }, { x: i + 0.2, y: high[i] }, { x: i, y: null });
    whiskers.push({ x: i, y: q1[i] }, { x: i, y: low[i] }, { x: i, y: null });
    whiskers.push({ x: i - 0.2, y: low[i] }, { x: i + 0.2, y: low[i] }, { x: i, y: null });
    medians.push({ x: i - 0.4, y: median[i] }, { x: i + 0.4, y: median[i] }, { x: i, y: null });
    (fliers[i] || []).forEach(v => outliers.push({ x: i, y: v }));
  });
  return [
    { type: 'scatter', order: 0, data: outliers, pointRadius: 4.2, borderWidth: 1.9, pointBackgroundColor: 'transparent', pointBorderColor: '#3f3f3f' },
    { type: 'line', order: 1, data: medians, borderColor: '#3f3f3f', borderWidth: 1.7, pointRadius: 0, spanGaps: false },
    { order: 2, data: q1.map((v, i) => ({ x: i, y: [v, q3[i]] })), backgroundColor: '#3274a1', borderColor: '#3f3f3f', borderWidth: 1.6, borderSkipped: false, barThickness: thickness },
    { type: 'line', order: 3, data: whiskers, borderColor: '#3f3f3f', borderWidth: 1.7, pointRadius: 0, spanGaps: false }
  ];
}

// --- borough boxes
new Chart(document.getElementById('boroughChart'), {
  type: 'bar',
  data: { datasets: boxDatasets(boroughQ1, boroughMedian, boroughQ3, boroughLow, boroughHigh, boroughFliers, 365) },
  options: baseOptions('UHI Index by Borough', 7,
    axis({ pos: 'bottom', min: -0.5, max: 1.5, title: 'Borough', tickAt: boroughLabels, label: v => boroughLabels[v] }),
    axis({ pos: 'left', min: 0.95146, max: 1.0506, step: 0.02, title: 'UHI Index', titleGap: 7, size: 70 }))
});

// --- training and test points on the same tracks
new Chart(document.getElementById('splitChart'), {
  type: 'scatter',
  data: { datasets: allTracks.map(track => ({
    label: 'Test (1040 points)',
    data: track.map(p => ({ x: p[0], y: p[1] })),
    showLine: true, pointRadius: 0, borderColor: 'rgba(255,0,0,0.9)', borderWidth: 4.6, borderJoinStyle: 'round', borderDash: [7,9,3,6,10,18,5,8,12,7,4,22,9,5,3,14], order: 0
  })).concat(allTracks.map(track => ({
    label: 'Training (11229 points)',
    data: track.map(p => ({ x: p[0], y: p[1] })),
    showLine: true, pointRadius: 0, borderColor: '#0000ff', borderWidth: 4, borderCapStyle: 'round', borderJoinStyle: 'round', order: 1
  }))) },
  options: baseOptions('Training and Testing Data Points', 10,
    axis({ pos: 'bottom', min: -74.0002, max: -73.8737, step: 0.02, title: 'Longitude' }),
    axis({ pos: 'left', min: 40.7537, max: 40.8646, step: 0.02, title: 'Latitude', titleGap: 7, size: 78 }))
});

// --- spatial lag scatter
const lagPoints = [];
lagRows.concat(lagRowsInner).forEach(row => row.slice(1).forEach(v => lagPoints.push({ x: row[0], y: v })));
[[lagStrayX, lagStrayY], [lagUpperX, lagUpperY], [lagLowerX, lagLowerY], [lagCoreX, lagCoreY]].forEach(pair => {
  pair[0].forEach((x, i) => lagPoints.push({ x: x, y: pair[1][i] }));
});

new Chart(document.getElementById('lagChart'), {
  type: 'scatter',
  data: { datasets: [
    { type: 'line', order: 0, data: [{ x: uhiMin, y: uhiMin }, { x: uhiMax, y: uhiMax }], borderColor: '#ff0000', borderWidth: 2.1, borderDash: [7.7, 3.3], pointRadius: 0 },
    { order: 1, data: lagPoints, pointRadius: 4.3, borderWidth: 1, pointBackgroundColor: 'rgba(31,119,180,0.8)', pointBorderColor: 'rgba(255,255,255,0.45)' }
  ] },
  options: baseOptions('Spatial Autocorrelation of UHI Index', 7,
    axis({ pos: 'bottom', min: 0.95163, max: 1.05053, step: 0.02, title: 'UHI Index' }),
    axis({ pos: 'left', min: 0.9517, max: 1.0506, step: 0.02, title: 'Spatial Lag of UHI Index', titleGap: 7, size: 70 }))
});

// --- cluster boxes
const clusterFlierRows = clusterLabels.map((_, i) => clusterFliers[i] || []);
new Chart(document.getElementById('clusterChart'), {
  type: 'bar',
  data: { datasets: boxDatasets(clusterQ1, clusterMedian, clusterQ3, clusterLow, clusterHigh, clusterFlierRows, 26.8) },
  options: baseOptions('UHI Index by Spatial Cluster', 10,
    axis({ pos: 'bottom', min: -0.5, max: 26.5, title: 'Spatial Cluster', tickAt: clusterLabels, label: v => clusterLabels[v] }),
    axis({ pos: 'left', min: 0.9517, max: 1.0506, step: 0.02, title: 'UHI Index', titleGap: 7, size: 78 }))
});
</script>
</body>
</html>
